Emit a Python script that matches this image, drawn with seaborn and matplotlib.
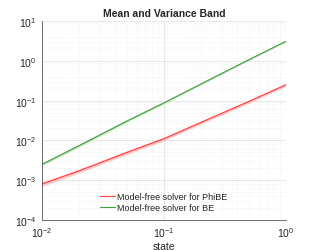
import numpy as np
import pandas as pd
import matplotlib
matplotlib.use('Agg')
import matplotlib.pyplot as plt
import seaborn as sns

# Dane
state = [0.01, 0.02, 0.05, 0.1, 0.2, 0.5, 1.0]
phibe_mean = [8.0e-4, 1.7e-3, 5.0e-3, 1.1e-2, 2.8e-2, 9.6e-2, 0.25]
phibe_std = [1.0e-4, 2.0e-4, 5.5e-4, 1.2e-3, 2.8e-3, 9.0e-3, 2.2e-2]
be_mean = [2.5e-3, 7.3e-3, 3.1e-2, 8.8e-2, 0.26, 1.08, 3.1]
be_std = [2.0e-4, 5.0e-4, 2.0e-3, 5.0e-3, 1.4e-2, 5.0e-2, 0.14]

df = pd.DataFrame({
    'state': state * 2,
    'value': phibe_mean + be_mean,
    'solver': ['Model-free solver for PhiBE'] * len(state) + ['Model-free solver for BE'] * len(state),
})

sns.set_style('white')
plt.rcParams['font.family'] = ['Liberation Sans', 'DejaVu Sans']
plt.rcParams['mathtext.fontset'] = 'custom'
plt.rcParams['mathtext.rm'] = 'Liberation Sans'

fig, ax = plt.subplots(figsize=(3.17, 2.51), dpi=100)
fig.subplots_adjust(left=0.133, right=0.902, top=0.912, bottom=0.12)

red = '#ff3b3b'
green = '#3a9e3a'
ax.fill_between(state, np.array(phibe_mean) - np.array(phibe_std),
                np.array(phibe_mean) + np.array(phibe_std), color=red, alpha=0.25, lw=0)
ax.fill_between(state, np.array(be_mean) - np.array(be_std),
                np.array(be_mean) + np.array(be_std), color=green, alpha=0.25, lw=0)
sns.lineplot(data=df, x='state', y='value', hue='solver',
             palette={'Model-free solver for PhiBE': red, 'Model-free solver for BE': green},
             lw=0.8, ax=ax)

ax.set_xscale('log')
ax.set_yscale('log')
ax.set_xlim(1e-2, 1)
ax.set_ylim(1e-4, 10)
ax.set_title('Mean and Variance Band', fontsize=7.5, fontweight='bold', pad=4)
ax.set_xlabel('state', fontsize=7.5, labelpad=1)
ax.set_ylabel('')
ax.tick_params(labelsize=7.5, length=2, width=0.5, color='#555555', pad=2, which='both')
ax.tick_params(which='minor', length=1.2)
ax.grid(True, which='major', color='#e4e4e4', lw=0.6)
ax.grid(True, which='minor', color='#e8e8e8', lw=0.5, ls=(0, (1, 2)))
for s in ['top', 'right']:
    ax.spines[s].set_visible(False)
for s in ['left', 'bottom']:
    ax.spines[s].set_color('#555555')
    ax.spines[s].set_linewidth(0.6)

ax.legend(loc='lower center', bbox_to_anchor=(0.5, 0.0), frameon=False, fontsize=6.5,
          handlelength=1.6, handletextpad=0.3, labelspacing=0.15)

fig.savefig('out.png', dpi=100)
